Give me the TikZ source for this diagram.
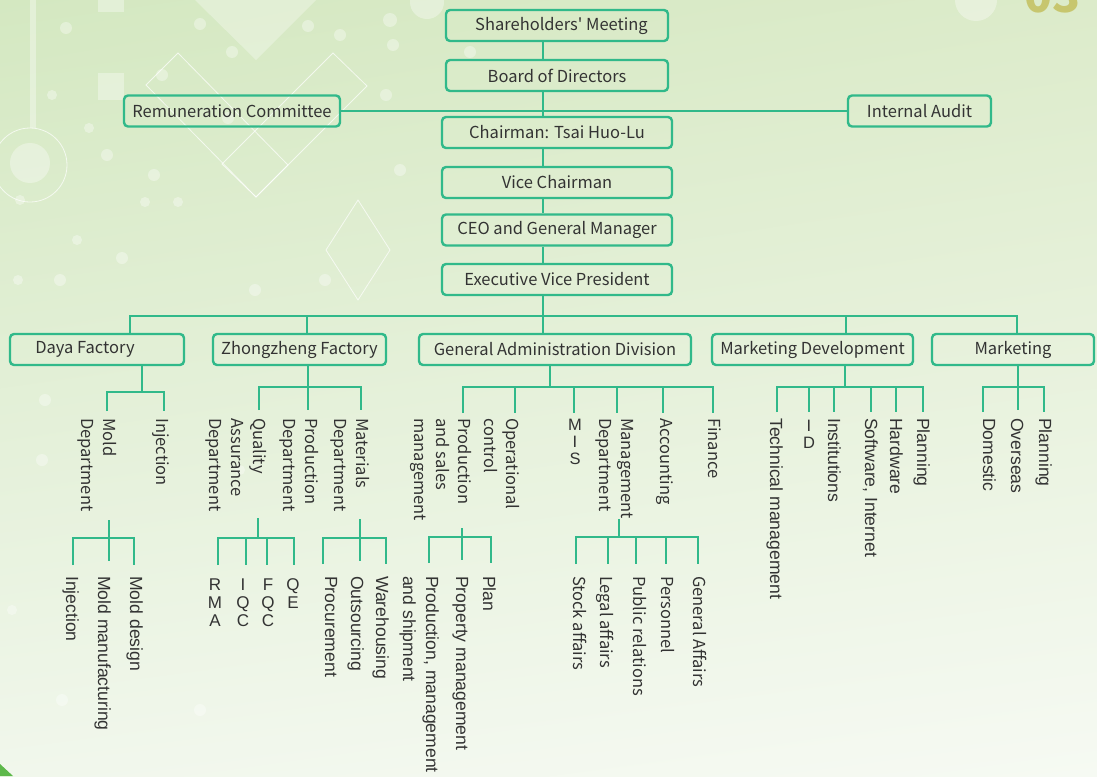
\documentclass[tikz,border=0pt]{standalone}
\usepackage{fontspec}
\setmainfont{Noto Sans CJK SC}[Ligatures=TeXOff]
\newfontfamily\arialf{Liberation Sans}
\usetikzlibrary{shadings}
\definecolor{ln}{HTML}{31B98A}
\definecolor{txt}{HTML}{333333}
\definecolor{olivec}{HTML}{C7C66E}
\definecolor{bgA}{HTML}{D4E8C1}
\definecolor{bgB}{HTML}{DCEBCA}
\definecolor{bgC}{HTML}{F1F7EC}
\definecolor{bgD}{HTML}{F6FAF3}
\definecolor{cornergreen}{HTML}{5DB84A}
\newcommand\vtx[1]{\begin{tabular}[t]{@{}l@{}}#1\end{tabular}}
\newcommand\stk[1]{\begin{tabular}[t]{@{}c@{}}#1\end{tabular}}
\tikzset{
 box/.style={draw=ln, line width=2.4pt, rounded corners=4pt, text=txt, inner sep=0pt, minimum height=31pt, font=\fontsize{16.5}{20}\selectfont},
 conn/.style={draw=ln, line width=2.2pt},
 sub/.style={draw=ln, line width=2.6pt},
 vlabN/.style={rotate=-90, anchor=base west, inner sep=0pt, text=txt, font=\fontsize{16.5}{22}\selectfont},
 vlabA/.style={rotate=-90, anchor=base west, inner sep=0pt, text=txt, font=\arialf\fontsize{17.6}{23}\selectfont},
 stkA/.style={anchor=north, inner sep=0pt, text=txt, font=\arialf\fontsize{17}{18}\selectfont},
 stkB/.style={anchor=north, inner sep=0pt, text=txt, font=\arialf\fontsize{16.5}{17}\selectfont},
 deco/.style={draw=white, line width=0.8pt, draw opacity=0.7},
 dot/.style={fill=white, fill opacity=0.35},
}
\begin{document}
\begin{tikzpicture}[x=1pt,y=-1pt]
\useasboundingbox (0,0) rectangle (1097,776);
% background
\shade[upper left=bgA, upper right=bgB, lower left=bgC, lower right=bgD] (0,0) rectangle (1097,776);
\fill[white, fill opacity=0.3] (195,0) -- (316,0) -- (256,60) -- cycle;
\draw[deco] (178,53) -- (288,165) -- (256,197) -- (146,85) -- cycle;
\draw[deco] (333,53) -- (367,86) -- (256,197) -- (222,164) -- cycle;
\draw[deco] (358,200) -- (390,250) -- (358,300) -- (326,250) -- cycle;
\fill[white, fill opacity=0.35] (30,0) rectangle (36,128);
\draw[deco] (30,165) circle (37);
\fill[white, fill opacity=0.35] (30,163) circle (20);
\fill[white, fill opacity=0.35] (98,0) rectangle (124,12);
\fill[white, fill opacity=0.35] (98,73) rectangle (124,100);
\fill[white, fill opacity=0.35] (976,0) circle (21);
\fill[white, fill opacity=0.35] (427,2) circle (17);
\foreach \p/\r in {{(66,28)/6},{(52,95)/5},{(89,128)/5},{(162,75)/6},{(228,118)/6},{(232,52)/6},{(200,24)/6},{(308,26)/6},{(340,35)/6},{(393,45)/6},{(386,95)/6},{(154,175)/6},{(178,202)/5},{(107,155)/6},{(20,200)/5},{(77,240)/5},{(60,280)/6},{(122,258)/6},{(145,202)/5},{(255,290)/6},{(325,280)/6},{(18,280)/5},{(45,400)/6},{(42,460)/6},{(12,610)/5},{(62,700)/6},{(200,710)/6},{(240,470)/5},{(390,20)/7},{(470,52)/6},{(400,170)/6}}
  \fill[dot] \p circle (\r);
\node[anchor=base, text=olivec, font=\bfseries\fontsize{46}{46}\selectfont, inner sep=0pt] (num) at (1052,13) {03};
\fill[cornergreen] (0,764) -- (13,776) -- (0,776) -- cycle;
% top chain
\node[box, minimum width=222pt] (sm) at (557,25.5) {\hspace*{9pt}Shareholders' Meeting};
\node[box, minimum width=222pt] (bd) at (557,75.5) {Board of Directors};
\node[box, minimum width=230pt] (ch) at (557,132.5) {Chairman: Tsai Huo-Lu};
\node[box, minimum width=230pt] (vc) at (557,182.5) {Vice Chairman};
\node[box, minimum width=230pt] (ceo) at (557,230) {CEO and General Manager};
\node[box, minimum width=230pt] (evp) at (557,279.5) {Executive Vice President};
\node[box, minimum width=216pt] (rem) at (232,111) {Remuneration Committee};
\node[box, minimum width=143pt] (ia) at (919.5,111) {Internal Audit};
% level 2 boxes
\node[box, minimum width=174pt] (daya) at (97,349.5) {\hspace*{-24pt}Daya Factory};
\node[box, minimum width=173pt] (zz) at (299.5,349.5) {Zhongzheng Factory};
\node[box, minimum width=272pt] (gad) at (555,349.5) {General Administration Division};
\node[box, minimum width=201pt] (md) at (812.5,349.5) {Marketing Development};
\node[box, minimum width=162pt] (mk) at (1013,349.5) {Marketing};
% spine
\draw[conn] (sm.south -| 543,0) -- (bd.north -| 543,0);
\draw[conn] (bd.south -| 543,0) -- (ch.north -| 543,0);
\draw[conn] (ch.south -| 543,0) -- (vc.north -| 543,0);
\draw[conn] (vc.south -| 543,0) -- (ceo.north -| 543,0);
\draw[conn] (ceo.south -| 543,0) -- (evp.north -| 543,0);
\draw[conn] (evp.south -| 543,0) -- (gad.north -| 543,0);
\draw[conn] (rem.east) -- (ia.west);
% bus
\draw[conn] (daya.north -| 130,0) -- (130,316) -- (1017,316) -- (mk.north -| 1017,0);
\draw[conn] (zz.north -| 307,0) -- (307,316);
\draw[conn] (md.north -| 846,0) -- (846,316);
% level 3 trees
\draw[sub] (daya.south -| 142,0) -- (142,392);
\draw[sub] (107,411) |- (164,392) -- (164,411);
\draw[sub] (zz.south -| 308,0) -- (308,410);
\draw[sub] (259,410) |- (361,387) -- (361,410);
\draw[sub] (gad.south -| 550,0) -- (550,387);
\draw[sub] (463,413) |- (713,387) -- (713,413);
\foreach \x in {515,574,617,663} \draw[sub] (\x,387) -- (\x,413);
\draw[sub] (md.south -| 845,0) -- (845,387);
\draw[sub] (777,412) |- (923,387) -- (923,412);
\foreach \x in {809,834,871,896} \draw[sub] (\x,387) -- (\x,412);
\draw[sub] (mk.south -| 1018,0) -- (1018,410);
\draw[sub] (983,412) |- (1044,387) -- (1044,412);
% level 3 labels
\node[vlabN] (lmold) at (103,418) {\vtx{Mold\\Department}};
\node[vlabN] (linj) at (156,418) {Injection};
\node[vlabN] (lqa) at (253,418) {\vtx{Quality\\Assurance\\Department}};
\node[vlabN] (lprod) at (305,418) {\vtx{Production\\Department}};
\node[vlabN] (lmat) at (356,418) {\vtx{Materials\\Department}};
\node[vlabN] (lps) at (458,418) {\vtx{Production\\and sales\\management}};
\node[vlabN] (lop) at (506,418) {\vtx{Operational\\control}};
\node[stkB] (lmis) at (575,418) {\stk{M\\I\\S}};
\node[vlabN] (lmg) at (621,418) {\vtx{Management\\Department}};
\node[vlabN] (lacc) at (660,418) {Accounting};
\node[vlabN] (lfin) at (708,418) {Finance};
\node[vlabA] (ltech) at (770,418) {Technical management};
\node[stkB] (lrd) at (809,419) {\stk{I\\D}};
\node[vlabA] (linst) at (828,418) {Institutions};
\node[vlabA] (lsoft) at (865,418) {Software, Internet};
\node[vlabA] (lhw) at (890,418) {Hardware};
\node[vlabA] (lplan2) at (917,418) {Planning};
\node[vlabA] (ldom) at (983,418) {Domestic};
\node[vlabA] (lovs) at (1011,418) {Overseas};
\node[vlabA] (lplan3) at (1039,418) {Planning};
% level 4 trees
\draw[sub] (109,520) -- (109,561);
\draw[sub] (73,565) |- (134,538) -- (134,565);
\draw[sub] (258,518) -- (258,538);
\draw[sub] (218,565) |- (294,538) -- (294,565);
\foreach \x in {246,267} \draw[sub] (\x,538) -- (\x,565);
\draw[sub] (360,519) -- (360,561);
\draw[sub] (323,564) |- (386,538) -- (386,564);
\draw[sub] (462,528) -- (462,560);
\draw[sub] (429,563) |- (491,537) -- (491,563);
\draw[sub] (619,519) -- (619,537);
\draw[sub] (576,564) |- (698,537) -- (698,564);
\foreach \x in {608,636,666} \draw[sub] (\x,537) -- (\x,564);
% level 4 labels
\node[vlabA] (linj2) at (66,576) {Injection};
\node[vlabA] (lmm) at (98,576) {Mold manufacturing};
\node[vlabA] (lmd) at (130,576) {Mold design};
\node[stkA] (lrma) at (215,578) {\stk{R\\M\\A}};
\node[stkA] (liqc) at (243,578) {\stk{I\\Q\\C}};
\node[stkA] (lfqc) at (268,578) {\stk{F\\Q\\C}};
\node[stkA] (lqe) at (293,578) {\stk{Q\\E}};
\node[vlabA] (lproc) at (325,576) {Procurement};
\node[vlabA] (lout) at (351,576) {Outsourcing};
\node[vlabA] (lware) at (376,576) {Warehousing};
\node[vlabA] (lpsm) at (426,576) {\vtx{Production, management\\and shipment}};
\node[vlabA] (lprop) at (456,576) {Property management};
\node[vlabA] (lplan) at (483,576) {Plan};
\node[vlabN] (lstock) at (573,576) {Stock affairs};
\node[vlabN] (llegal) at (600,576) {Legal affairs};
\node[vlabN] (lpub) at (633,576) {Public relations};
\node[vlabN] (lpers) at (661,576) {Personnel};
\node[vlabN] (lgen) at (693,576) {General Affairs};
\end{tikzpicture}
\end{document}
